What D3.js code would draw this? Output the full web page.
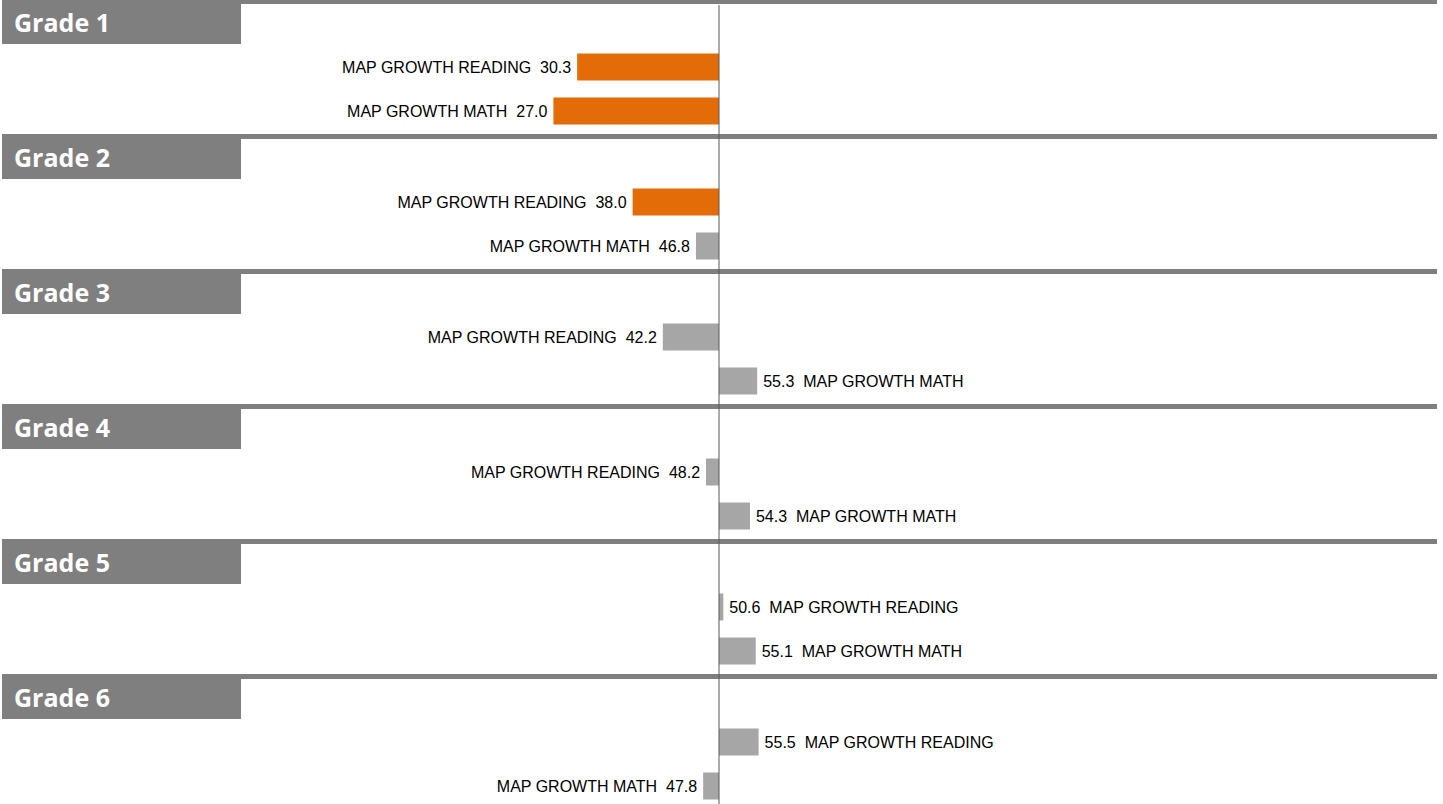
<!DOCTYPE html>
<html>
<head>
<meta charset="utf-8">
<script src="https://cdn.jsdelivr.net/npm/d3@7"></script>
<style>
  html, body { margin: 0; padding: 0; background: #fff; overflow: hidden; }
  svg { display: block; }
</style>
</head>
<body>
<svg id="chart" width="1443" height="804"></svg>
<script>
const grades = ["Grade 1", "Grade 2", "Grade 3", "Grade 4", "Grade 5", "Grade 6"];
const subjects = ["MAP GROWTH READING", "MAP GROWTH MATH"];
const readingValues = [30.3, 38.0, 42.2, 48.2, 50.6, 55.5];
const mathValues = [27.0, 46.8, 55.3, 54.3, 55.1, 47.8];
const midValue = 50;
const alertThreshold = 40;

const rows = [];
grades.forEach((g, i) => {
  rows.push({ grade: g, subject: subjects[0], value: readingValues[i] });
  rows.push({ grade: g, subject: subjects[1], value: mathValues[i] });
});

const W = 1443, H = 804;
const svg = d3.select("#chart");

const x = d3.scaleLinear().domain([0, 100]).range([359, 1079]);
const yGrade = d3.scaleBand().domain(grades).range([-1, -1 + 135 * grades.length]);
const ySub = d3.scalePoint().domain(subjects).range([68, 112]);
const barH = 27;

const headerColor = "#7f7f7f";
const orange = "#e36c09";
const greyBar = "#a6a6a6";

// grade group separators + header boxes
const g = svg.selectAll("g.grade").data(grades).join("g")
  .attr("class", "grade")
  .attr("transform", d => `translate(0,${yGrade(d)})`);

g.append("rect")
  .attr("x", 2).attr("y", 0)
  .attr("width", 1435).attr("height", 5)
  .attr("fill", headerColor);

g.append("rect")
  .attr("x", 2).attr("y", 0)
  .attr("width", 239).attr("height", 45)
  .attr("fill", headerColor);

g.append("text")
  .attr("x", 14).attr("y", 33)
  .attr("fill", "#fff")
  .style("font-family", "'Open Sans', sans-serif")
  .style("font-weight", "700")
  .style("font-size", "25px")
  .text(d => d);

// bars
const barG = svg.selectAll("g.bar").data(rows).join("g")
  .attr("class", "bar")
  .attr("transform", d => `translate(0,${yGrade(d.grade) + ySub(d.subject)})`);

barG.append("rect")
  .attr("x", d => Math.min(x(d.value), x(midValue)))
  .attr("y", -barH / 2)
  .attr("width", d => Math.abs(x(d.value) - x(midValue)))
  .attr("height", barH)
  .attr("fill", d => d.value < alertThreshold ? orange : greyBar);

barG.append("text")
  .attr("x", d => d.value < midValue ? x(d.value) - 6 : x(d.value) + 6)
  .attr("y", 0)
  .attr("dy", "0.36em")
  .attr("text-anchor", d => d.value < midValue ? "end" : "start")
  .attr("fill", "#000")
  .style("font-family", "'Liberation Sans', Arial, sans-serif")
  .style("font-size", "16px")
  .style("white-space", "pre")
  .attr("xml:space", "preserve")
  .text(d => d.value < midValue
    ? `${d.subject}  ${d.value.toFixed(1)}`
    : `${d.value.toFixed(1)}  ${d.subject}`);

// center axis line
svg.append("line")
  .attr("x1", x(midValue)).attr("x2", x(midValue))
  .attr("y1", 5).attr("y2", H)
  .attr("stroke", "#595959")
  .attr("stroke-width", 1);
</script>
</body>
</html>
